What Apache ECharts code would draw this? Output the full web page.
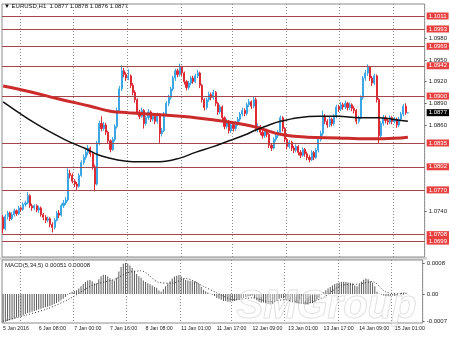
<!DOCTYPE html>
<html><head><meta charset="utf-8">
<script src="https://cdn.jsdelivr.net/npm/echarts@6/dist/echarts.min.js"></script>
<style>html,body{margin:0;padding:0;background:#fff}#c{width:450px;height:337px}</style>
</head><body><div id="c"></div>
<script>
// [open, close, low, high]
const candles = [
[1.0732,1.0716,1.0710,1.0735],[1.0716,1.0733,1.0714,1.0736],[1.0733,1.0738,1.0729,1.0741],[1.0738,1.0730,1.0727,1.0740],
[1.0730,1.0736,1.0728,1.0739],[1.0736,1.0741,1.0733,1.0744],[1.0741,1.0737,1.0734,1.0743],[1.0737,1.0745,1.0735,1.0748],
[1.0745,1.0743,1.0740,1.0747],[1.0743,1.0750,1.0741,1.0753],[1.0750,1.0752,1.0747,1.0755],[1.0752,1.0762,1.0750,1.0767],
[1.0762,1.0748,1.0745,1.0764],[1.0748,1.0745,1.0741,1.0751],[1.0745,1.0748,1.0742,1.0750],[1.0748,1.0742,1.0739,1.0750],
[1.0742,1.0745,1.0738,1.0748],[1.0745,1.0736,1.0733,1.0747],[1.0736,1.0732,1.0728,1.0738],[1.0732,1.0728,1.0724,1.0735],
[1.0728,1.0730,1.0725,1.0733],[1.0730,1.0722,1.0718,1.0732],[1.0722,1.0718,1.0711,1.0725],[1.0718,1.0728,1.0715,1.0731],
[1.0728,1.0738,1.0726,1.0741],[1.0738,1.0735,1.0731,1.0742],[1.0735,1.0748,1.0733,1.0751],[1.0748,1.0752,1.0745,1.0756],
[1.0752,1.0756,1.0749,1.0760],[1.0756,1.0793,1.0754,1.0800],[1.0793,1.0790,1.0786,1.0798],[1.0790,1.0782,1.0779,1.0793],
[1.0782,1.0778,1.0774,1.0785],[1.0778,1.0775,1.0770,1.0781],[1.0775,1.0790,1.0773,1.0793],[1.0790,1.0808,1.0788,1.0811],
[1.0808,1.0815,1.0805,1.0819],[1.0815,1.0822,1.0812,1.0826],[1.0822,1.0828,1.0818,1.0832],[1.0828,1.0820,1.0816,1.0830],
[1.0820,1.0802,1.0798,1.0823],[1.0802,1.0778,1.0768,1.0805],[1.0778,1.0835,1.0776,1.0838],[1.0835,1.0862,1.0832,1.0866],
[1.0862,1.0855,1.0851,1.0872],[1.0855,1.0860,1.0852,1.0864],[1.0860,1.0850,1.0846,1.0863],[1.0850,1.0838,1.0834,1.0852],
[1.0838,1.0826,1.0822,1.0840],[1.0826,1.0840,1.0824,1.0843],[1.0840,1.0858,1.0837,1.0861],[1.0858,1.0880,1.0855,1.0884],
[1.0880,1.0910,1.0877,1.0914],[1.0910,1.0935,1.0907,1.0943],[1.0935,1.0930,1.0926,1.0939],[1.0930,1.0925,1.0921,1.0933],
[1.0925,1.0928,1.0922,1.0937],[1.0928,1.0915,1.0911,1.0930],[1.0915,1.0905,1.0901,1.0918],[1.0905,1.0895,1.0891,1.0908],
[1.0895,1.0878,1.0874,1.0897],[1.0878,1.0872,1.0868,1.0881],[1.0872,1.0880,1.0870,1.0884],[1.0880,1.0862,1.0855,1.0882],
[1.0862,1.0870,1.0859,1.0873],[1.0870,1.0878,1.0867,1.0882],[1.0878,1.0868,1.0864,1.0880],[1.0868,1.0872,1.0865,1.0876],
[1.0872,1.0865,1.0861,1.0874],[1.0865,1.0874,1.0862,1.0877],[1.0874,1.0848,1.0835,1.0876],[1.0848,1.0852,1.0844,1.0856],
[1.0852,1.0875,1.0850,1.0878],[1.0875,1.0890,1.0872,1.0893],[1.0890,1.0898,1.0886,1.0902],[1.0898,1.0910,1.0895,1.0913],
[1.0910,1.0925,1.0907,1.0928],[1.0925,1.0935,1.0921,1.0938],[1.0935,1.0930,1.0926,1.0938],[1.0930,1.0940,1.0927,1.0945],
[1.0940,1.0932,1.0928,1.0942],[1.0932,1.0920,1.0916,1.0934],[1.0920,1.0912,1.0908,1.0922],[1.0912,1.0918,1.0909,1.0921],
[1.0918,1.0925,1.0915,1.0928],[1.0925,1.0920,1.0917,1.0928],[1.0920,1.0928,1.0918,1.0931],[1.0928,1.0932,1.0925,1.0936],
[1.0932,1.0915,1.0911,1.0934],[1.0915,1.0895,1.0891,1.0917],[1.0895,1.0884,1.0880,1.0897],[1.0884,1.0895,1.0881,1.0898],
[1.0895,1.0902,1.0892,1.0906],[1.0902,1.0898,1.0894,1.0905],[1.0898,1.0905,1.0895,1.0909],[1.0905,1.0890,1.0886,1.0907],
[1.0890,1.0878,1.0874,1.0892],[1.0878,1.0885,1.0875,1.0888],[1.0885,1.0870,1.0866,1.0887],[1.0870,1.0858,1.0854,1.0872],
[1.0858,1.0865,1.0855,1.0868],[1.0865,1.0852,1.0848,1.0867],[1.0852,1.0860,1.0849,1.0863],[1.0860,1.0855,1.0851,1.0862],
[1.0855,1.0862,1.0852,1.0865],[1.0862,1.0868,1.0859,1.0871],[1.0868,1.0875,1.0865,1.0878],[1.0875,1.0880,1.0872,1.0884],
[1.0880,1.0876,1.0872,1.0883],[1.0876,1.0888,1.0873,1.0891],[1.0888,1.0892,1.0885,1.0896],[1.0892,1.0886,1.0882,1.0894],
[1.0886,1.0895,1.0883,1.0899],[1.0895,1.0855,1.0851,1.0898],[1.0855,1.0858,1.0850,1.0862],[1.0858,1.0850,1.0846,1.0860],
[1.0850,1.0845,1.0841,1.0853],[1.0845,1.0852,1.0842,1.0855],[1.0852,1.0847,1.0843,1.0855],[1.0847,1.0832,1.0828,1.0849],
[1.0832,1.0828,1.0824,1.0835],[1.0828,1.0840,1.0826,1.0843],[1.0840,1.0845,1.0837,1.0848],[1.0845,1.0850,1.0842,1.0853],
[1.0850,1.0870,1.0847,1.0873],[1.0870,1.0855,1.0851,1.0872],[1.0855,1.0840,1.0836,1.0857],[1.0840,1.0830,1.0826,1.0842],
[1.0830,1.0836,1.0827,1.0839],[1.0836,1.0828,1.0824,1.0838],[1.0828,1.0825,1.0821,1.0831],[1.0825,1.0830,1.0822,1.0833],
[1.0830,1.0822,1.0818,1.0832],[1.0822,1.0818,1.0814,1.0825],[1.0818,1.0826,1.0816,1.0829],[1.0826,1.0820,1.0816,1.0828],
[1.0820,1.0815,1.0811,1.0823],[1.0815,1.0812,1.0808,1.0818],[1.0812,1.0822,1.0810,1.0825],[1.0822,1.0815,1.0811,1.0824],
[1.0815,1.0825,1.0813,1.0828],[1.0825,1.0840,1.0822,1.0843],[1.0840,1.0848,1.0837,1.0852],[1.0848,1.0872,1.0845,1.0880],
[1.0872,1.0865,1.0861,1.0875],[1.0865,1.0860,1.0856,1.0868],[1.0860,1.0868,1.0857,1.0871],[1.0868,1.0862,1.0858,1.0870],
[1.0862,1.0872,1.0859,1.0875],[1.0872,1.0885,1.0869,1.0888],[1.0885,1.0882,1.0878,1.0888],[1.0882,1.0888,1.0879,1.0892],
[1.0888,1.0885,1.0881,1.0891],[1.0885,1.0890,1.0882,1.0894],[1.0890,1.0884,1.0880,1.0892],[1.0884,1.0888,1.0881,1.0891],
[1.0888,1.0883,1.0879,1.0890],[1.0883,1.0880,1.0876,1.0886],[1.0880,1.0865,1.0861,1.0882],[1.0865,1.0870,1.0862,1.0873],
[1.0870,1.0898,1.0868,1.0901],[1.0898,1.0925,1.0895,1.0928],[1.0925,1.0932,1.0921,1.0936],[1.0932,1.0940,1.0928,1.0944],
[1.0940,1.0925,1.0921,1.0942],[1.0925,1.0918,1.0914,1.0928],[1.0918,1.0928,1.0915,1.0931],[1.0928,1.0895,1.0891,1.0930],
[1.0895,1.0845,1.0835,1.0897],[1.0845,1.0862,1.0842,1.0865],[1.0862,1.0870,1.0859,1.0874],[1.0870,1.0866,1.0862,1.0873],
[1.0866,1.0864,1.0860,1.0869],[1.0864,1.0870,1.0861,1.0873],[1.0870,1.0865,1.0861,1.0872],[1.0865,1.0868,1.0862,1.0871],
[1.0868,1.0860,1.0856,1.0870],[1.0860,1.0868,1.0857,1.0871],[1.0868,1.0875,1.0865,1.0878],[1.0875,1.0886,1.0872,1.0889],
[1.0886,1.0877,1.0874,1.0890],[1.0877,1.0877,1.0876,1.0878]
];
// moving averages: [barIndex, price]
const maRed = [[0,1.0914],[12,1.0906],[25,1.0896],[39,1.0886],[48,1.0879],[56,1.0877],[70,1.0874],[86,1.0870],[101,1.0864],[113,1.0857],[124,1.0847],[136,1.0843],[150,1.0842],[159,1.0841],[170,1.0841],[181,1.0843]];
const maBlack = [[0,1.0892],[15,1.0861],[28,1.0839],[37,1.0827],[43,1.0818],[52,1.0811],[58,1.0809],[70,1.0809],[79,1.0814],[86,1.0822],[94,1.0830],[101,1.0838],[108,1.0846],[113,1.0853],[119,1.0860],[124,1.0865],[132,1.0870],[141,1.0872],[150,1.0872],[159,1.0870],[168,1.0870],[174,1.0868],[181,1.0865]];
const macdHist = [
-0.00074,-0.00072,-0.0007,-0.00068,-0.00066,-0.00064,-0.00061,-0.00059,-0.00057,-0.00055,
-0.00052,-0.00049,-0.00048,-0.00046,-0.00044,-0.00042,-0.0004,-0.00038,-0.00036,-0.00034,
-0.00033,-0.00031,-0.00029,-0.00026,-0.00023,-0.0002,-0.00016,-0.00012,-0.00008,-0.00002,
0.00003,0.00006,0.00008,0.0001,0.00014,0.0002,0.00026,0.00031,0.00035,0.00036,
0.00033,0.00027,0.00028,0.00038,0.00046,0.0005,0.00049,0.00045,0.00041,0.00036,
0.00035,0.00042,0.00058,0.0007,0.00078,0.0008,0.00079,0.00074,0.00067,0.0006,
0.00052,0.00046,0.00042,0.00035,0.00031,0.00028,0.00025,0.00022,0.00018,0.00016,
0.00009,0.00006,0.00012,0.0002,0.00027,0.00033,0.0004,0.00045,0.00047,0.00049,
0.00046,0.00041,0.00036,0.00035,0.00034,0.00033,0.00033,0.00031,0.00026,0.00018,
0.00011,0.00007,0.00004,0.00001,-0.00002,-0.00005,-0.0001,-0.00012,-0.00015,-0.00018,
-0.00018,-0.0002,-0.0002,-0.00019,-0.00018,-0.00016,-0.00013,-0.00011,-0.0001,-0.00008,
-0.00006,-0.00005,-0.00004,-0.00011,-0.00016,-0.0002,-0.00022,-0.00022,-0.00024,-0.00026,
-0.00027,-0.00025,-0.00022,-0.00018,-0.00012,-0.0001,-0.00011,-0.00015,-0.00017,-0.0002,
-0.00022,-0.00022,-0.00024,-0.00026,-0.00025,-0.00026,-0.00027,-0.00027,-0.00024,-0.00023,
-0.0002,-0.00014,-0.00009,-0.00002,0.00005,0.0001,0.00014,0.00018,0.00022,0.00026,
0.00028,0.0003,0.00031,0.00032,0.00031,0.0003,0.00029,0.00027,0.00022,0.0002,
0.00025,0.00032,0.00037,0.0004,0.00038,0.00033,0.00029,0.0002,0.00006,0.00001,
-0.00002,-0.00004,-0.00005,-0.00005,-0.00005,-0.00004,-0.00005,-0.00003,0.00001,0.00003,
0.00004,0.00003
];
const macdSignal = [[0,-0.0007],[10,-0.00055],[20,-0.00038],[30,-0.00012],[40,0.00022],[50,0.00038],[56,0.00055],[62,0.0006],[70,0.0003],[76,0.00028],[82,0.0004],[90,0.0002],[96,0.00003],[104,-0.00015],[112,-0.0001],[120,-0.0002],[126,-0.00015],[136,-0.00024],[144,-0.00008],[152,0.00022],[160,0.00026],[166,0.00032],[172,0.00005],[181,0.0]];
const levels = [1.1011,1.0993,1.0969,1.0942,1.0900,1.0835,1.0802,1.0770,1.0708,1.0699];
const lastPrice = 1.0877;
const priceTicks = [1.0980,1.0950,1.0920,1.0890,1.0860,1.0740];
const macdTicks = [0.0008,0,-0.0007];
const tickIdx = [0,16,32,48,64,80,96,112,128,144,160,176];
const tickText = ['5 Jan 2016','6 Jan 08:00','7 Jan 00:00','7 Jan 16:00','8 Jan 08:00','11 Jan 01:00','11 Jan 17:00','12 Jan 09:00','13 Jan 01:00','13 Jan 17:00','14 Jan 09:00','15 Jan 01:00'];
const gridIdx = [8,32,56,80,103,127,151,175];
const titleText = '\u25BC EURUSD,H1  1.0877 1.0878 1.0876 1.0877';
const macdTitle = 'MACD(5,34,5) 0.00051 0.00008';
const nSlots = 189;
const categories = Array.from({length: nSlots}, (_, i) => String(i));

const FONT = 'Liberation Sans, Arial, sans-serif';
const chart = echarts.init(document.getElementById('c'), null, {renderer: 'canvas'});
const vSplit = {show: true, interval: (i) => gridIdx.includes(i), lineStyle: {color: '#8a8a8a', width: 1, type: [1, 2]}};

const levelData = levels.map(v => ({yAxis: v}));
levelData.push({yAxis: lastPrice, lineStyle: {color: 'rgba(0,0,0,0)', width: 1},
  label: {backgroundColor: '#000', color: '#fff'}});

chart.setOption({
  animation: false,
  backgroundColor: '#fff',
  grid: [
    {left: 2, right: 23, top: 4, height: 253, show: true, borderColor: '#8c8c8c', borderWidth: 1, backgroundColor: '#fff'},
    {left: 2, right: 23, top: 260, height: 63, show: true, borderColor: '#8c8c8c', borderWidth: 1, backgroundColor: '#fff'}
  ],
  xAxis: [
    {type: 'category', gridIndex: 0, data: categories, boundaryGap: true,
     axisLine: {show: false}, axisTick: {show: false}, axisLabel: {show: false}, splitLine: vSplit},
    {type: 'category', gridIndex: 1, data: categories, boundaryGap: true,
     axisLine: {show: false}, axisTick: {show: false}, splitLine: vSplit,
     axisLabel: {show: true, interval: (i) => tickIdx.includes(i), align: 'left', margin: 3,
       formatter: (v, i) => tickText[tickIdx.indexOf(i)] || '', fontSize: 5.2, color: '#222', fontFamily: FONT}}
  ],
  yAxis: [
    {type: 'value', gridIndex: 0, position: 'right', min: 1.0677, max: 1.10276,
     splitLine: {show: false}, axisLine: {show: false},
     axisTick: {show: true, length: 2, customValues: priceTicks, lineStyle: {color: '#666'}},
     axisLabel: {customValues: priceTicks, formatter: v => v.toFixed(4), fontSize: 6, color: '#222', margin: 4, fontFamily: FONT}},
    {type: 'value', gridIndex: 1, position: 'right', min: -0.00075, max: 0.00088,
     splitLine: {show: false}, axisLine: {show: false},
     axisTick: {show: true, length: 2, customValues: macdTicks, lineStyle: {color: '#666'}},
     axisLabel: {customValues: macdTicks, formatter: v => (v === 0 ? '0.00' : v.toFixed(4)), fontSize: 6, color: '#222', margin: 4, fontFamily: FONT}}
  ],
  series: [
    {type: 'candlestick', xAxisIndex: 0, yAxisIndex: 0, data: candles, barWidth: 1.6,
     itemStyle: {color: '#3aa6e6', color0: '#df2a33', borderColor: '#3aa6e6', borderColor0: '#df2a33', borderWidth: 1},
     markLine: {silent: true, symbol: ['none', 'none'], animation: false, precision: 4,
       lineStyle: {color: '#a3474d', width: 1, type: 'solid'},
       label: {show: true, position: 'end', distance: 2, formatter: p => Number(p.value).toFixed(4),
         backgroundColor: '#e8403f', color: '#fff', fontSize: 6, padding: [1, 2, 0, 2], fontFamily: FONT},
       data: levelData}},
    {type: 'line', xAxisIndex: 0, yAxisIndex: 0, data: maRed, smooth: 0.4, showSymbol: false,
     lineStyle: {color: '#cc2b2b', width: 3}, z: 5},
    {type: 'line', xAxisIndex: 0, yAxisIndex: 0, data: maBlack, smooth: 0.4, showSymbol: false,
     lineStyle: {color: '#111', width: 1.5}, z: 6},
    {type: 'bar', xAxisIndex: 1, yAxisIndex: 1, data: macdHist, barWidth: 1,
     itemStyle: {color: '#5a5a5a'}},
    {type: 'line', xAxisIndex: 1, yAxisIndex: 1, data: macdSignal, smooth: 0.3, showSymbol: false,
     lineStyle: {color: '#333', width: 1, type: [1, 2]}, z: 4}
  ],
  graphic: [
    {type: 'rect', left: 0, top: 257, shape: {width: 427, height: 3}, style: {fill: '#d8d8d8'}, z: -1},
    {type: 'text', left: 4, top: 3, style: {text: titleText, fontSize: 6, fill: '#111', font: '6px ' + FONT}},
    {type: 'text', left: 5, top: 262, style: {text: macdTitle, fontSize: 6, fill: '#222', font: '6px ' + FONT}},
    {type: 'text', left: 236, top: 286, z: 100, style: {text: 'SMGroup', font: 'italic bold 40px ' + FONT,
       fill: 'rgba(255,255,255,0.35)', stroke: 'rgba(190,190,190,0.55)', lineWidth: 1}}
  ]
});
</script></body></html>
